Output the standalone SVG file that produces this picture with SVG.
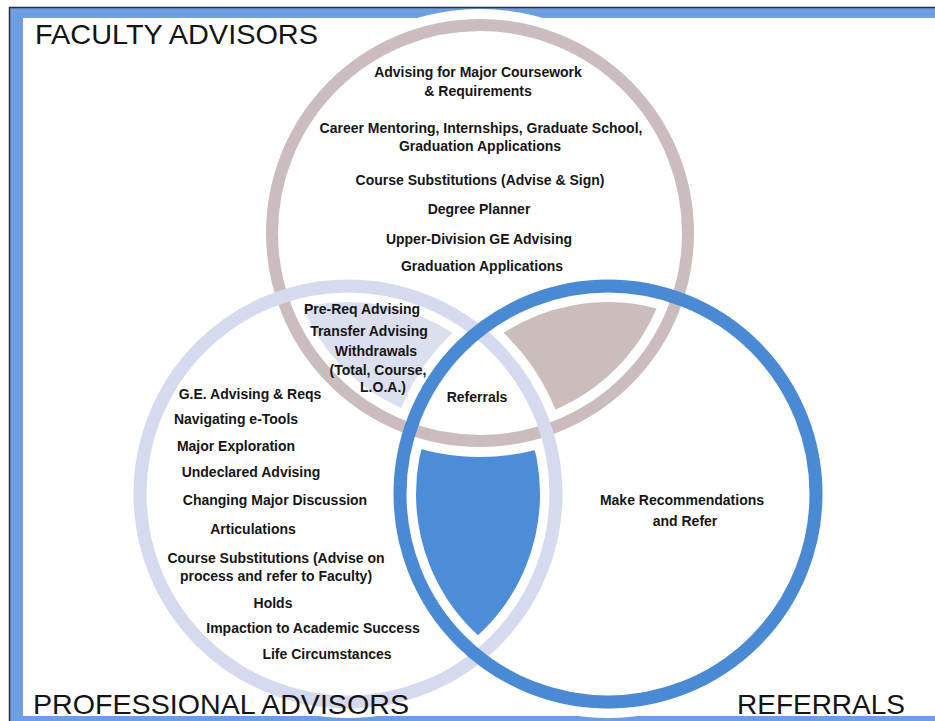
<svg xmlns="http://www.w3.org/2000/svg" width="935" height="721" viewBox="0 0 935 721">
<style>
.lbl{font-family:"Liberation Sans",Arial,sans-serif;font-weight:bold;font-size:14px;fill:#161616;text-anchor:middle}
.ttl{font-family:"Liberation Sans",Arial,sans-serif;font-size:28px;fill:#141414}
.halo{fill:none;stroke:#ffffff;stroke-width:32}
</style>
<defs>
<clipPath id="cF"><circle cx="480" cy="233" r="208"/></clipPath>
<clipPath id="cP"><circle cx="348" cy="494" r="208"/></clipPath>
<clipPath id="cR"><circle cx="608" cy="494" r="208"/></clipPath>
</defs>
<g id="frame">
<rect x="0" y="0" width="935" height="721" fill="#ffffff"/>
<rect x="10" y="8" width="930" height="720" fill="#6d9de2"/>
<rect x="23" y="18" width="920" height="698" fill="#ffffff"/>
<path d="M9.5 721 V7.5 H935" fill="none" stroke="#2a3038" stroke-width="1.5"/>
</g>
<g id="regions">
<g id="region-faculty-professional" clip-path="url(#cF)"><rect x="0" y="0" width="935" height="721" fill="#dcdfee" clip-path="url(#cP)"/></g>
<g id="region-faculty-referrals" clip-path="url(#cF)"><rect x="0" y="0" width="935" height="721" fill="#cbbdbc" clip-path="url(#cR)"/></g>
<g id="region-professional-referrals" clip-path="url(#cP)"><rect x="0" y="0" width="935" height="721" fill="#4d8dd7" clip-path="url(#cR)"/></g>
<g id="region-center" clip-path="url(#cF)"><g clip-path="url(#cP)"><rect x="0" y="0" width="935" height="721" fill="#ffffff" clip-path="url(#cR)"/></g></g>
</g>
<g id="halos">
<circle class="halo" cx="480" cy="233" r="208"/>
<circle class="halo" cx="348" cy="494" r="208"/>
<circle class="halo" cx="608" cy="494" r="208"/>
</g>
<g id="faculty"><circle cx="480" cy="233" r="208" fill="none" stroke="#cbbcbe" stroke-width="12"/></g>
<g id="professional"><circle cx="348" cy="494" r="208" fill="none" stroke="#d6daee" stroke-width="13"/></g>
<g id="referrals"><circle cx="608" cy="494" r="208" fill="none" stroke="#4a8ad5" stroke-width="13"/></g>
<g id="titles">
<text class="ttl" x="35" y="44" textLength="283" lengthAdjust="spacingAndGlyphs">FACULTY ADVISORS</text>
<text class="ttl" x="33" y="714" textLength="376" lengthAdjust="spacingAndGlyphs">PROFESSIONAL ADVISORS</text>
<text class="ttl" x="737" y="714" textLength="168" lengthAdjust="spacingAndGlyphs">REFERRALS</text>
</g>
<g id="faculty-labels">
<text class="lbl" x="478" y="77">Advising for Major Coursework</text>
<text class="lbl" x="478" y="96">&amp; Requirements</text>
<text class="lbl" x="481" y="133">Career Mentoring, Internships, Graduate School,</text>
<text class="lbl" x="480" y="151">Graduation Applications</text>
<text class="lbl" x="480" y="185">Course Substitutions (Advise &amp; Sign)</text>
<text class="lbl" x="479" y="214">Degree Planner</text>
<text class="lbl" x="479" y="244">Upper-Division GE Advising</text>
<text class="lbl" x="482" y="271">Graduation Applications</text>
</g>
<g id="shared-labels">
<text class="lbl" x="362" y="314">Pre-Req Advising</text>
<text class="lbl" x="369" y="336">Transfer Advising</text>
<text class="lbl" x="376" y="356">Withdrawals</text>
<text class="lbl" x="378" y="375">(Total, Course,</text>
<text class="lbl" x="383" y="392">L.O.A.)</text>
<text class="lbl" x="477" y="402">Referrals</text>
</g>
<g id="professional-labels">
<text class="lbl" x="250" y="399">G.E. Advising &amp; Reqs</text>
<text class="lbl" x="236" y="424">Navigating e-Tools</text>
<text class="lbl" x="236" y="451">Major Exploration</text>
<text class="lbl" x="251" y="477">Undeclared Advising</text>
<text class="lbl" x="275" y="505">Changing Major Discussion</text>
<text class="lbl" x="253" y="534">Articulations</text>
<text class="lbl" x="276" y="563">Course Substitutions (Advise on</text>
<text class="lbl" x="276" y="581">process and refer to Faculty)</text>
<text class="lbl" x="273" y="608">Holds</text>
<text class="lbl" x="313" y="633">Impaction to Academic Success</text>
<text class="lbl" x="327" y="659">Life Circumstances</text>
</g>
<g id="referrals-labels">
<text class="lbl" x="682" y="505">Make Recommendations</text>
<text class="lbl" x="685" y="526">and Refer</text>
</g>
</svg>
